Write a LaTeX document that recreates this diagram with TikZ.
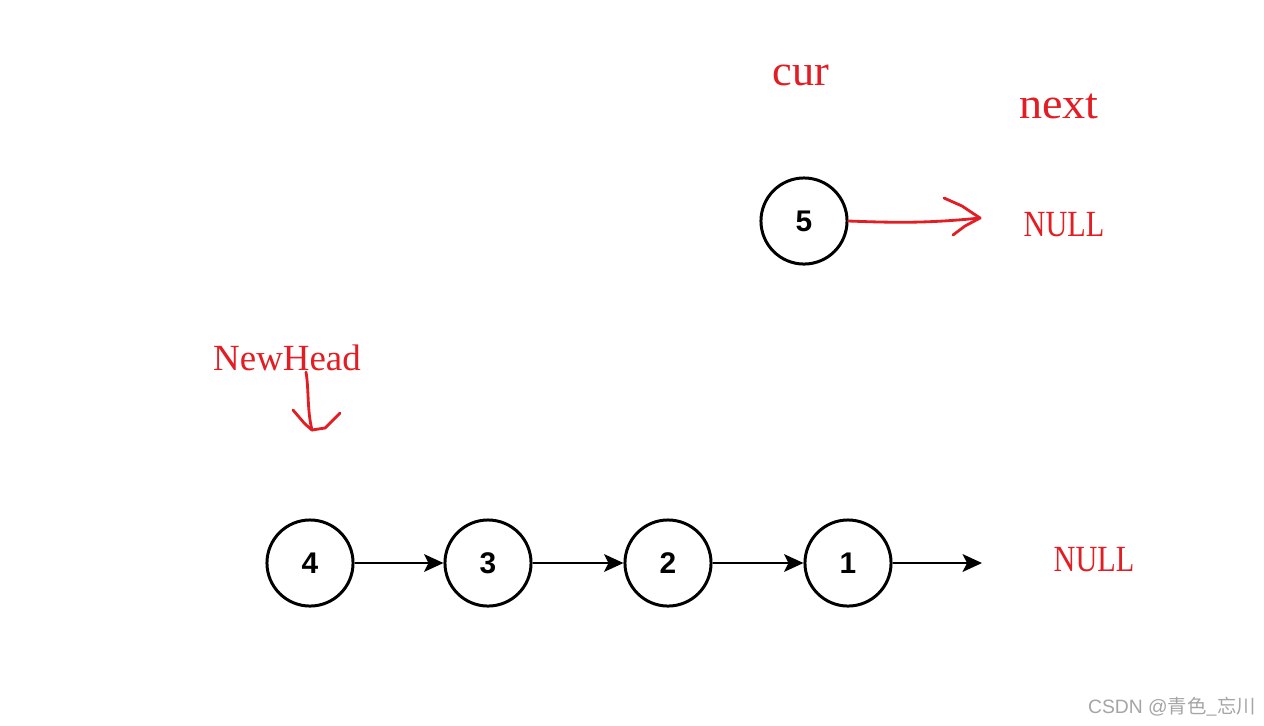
\documentclass[tikz,border=0pt]{standalone}
\usepackage{fontspec}
\setmainfont{Liberation Serif}
\setsansfont{Liberation Sans}
\newfontfamily\cjkfont{Noto Sans CJK SC}
\usetikzlibrary{arrows.meta}
\definecolor{rojo}{RGB}{226,30,36}
\definecolor{marca}{RGB}{165,165,165}
\tikzset{
  nodo/.style={circle, draw, line width=1.7pt, minimum size=49pt, inner sep=0pt,
    font=\sffamily\bfseries\fontsize{17}{17}\selectfont},
  enlace/.style={line width=1.6pt, -{Stealth[length=11pt,width=10pt,inset=2.5pt]}},
  texto/.style={text=rojo, font=\fontsize{21}{21}\selectfont, inner sep=0pt},
  trazo/.style={rojo, line width=1.6pt, line cap=round, line join=round}
}
\begin{document}
\begin{tikzpicture}[x=0.02cm, y=-0.02cm]
    \fill[white] (0,0) rectangle (1264,725);
    \useasboundingbox (0,0) rectangle (1264,725);
    % Nodo suelto
    \node[nodo] (n5) at (804,221) {5};
    % Lista invertida
    \foreach \v/\x in {4/310,3/488,2/668,1/848}
        \node[nodo] (n\v) at (\x,563) {\v};
    \coordinate (fin) at (982,563);
    \foreach \a/\b in {4/3,3/2,2/1}
        \draw[enlace] (n\a) -- (n\b);
    \draw[enlace] (n1) -- (fin);
    % Etiquetas
    \node[texto] (cur) at (801,75) {\scalebox{1.2}[1.18]{cur}};
    \node[texto] (next) at (1059,106) {\scalebox{1.25}[1.18]{next}};
    \node[texto] (nullA) at (1064,225) {\scalebox{0.82}[1]{NULL}};
    \node[texto] (nuevo) at (287,358) {NewHead};
    \node[texto] (nullB) at (1094,560) {\scalebox{0.82}[1]{NULL}};
    % Flechas a mano
    \coordinate (punta) at (980,218);
    \draw[trazo] (n5.east) .. controls (900,223) and (930,223) .. (punta);
    \draw[trazo] (944,198) -- (962,206) -- (punta) -- (965,226) -- (953,235);
    \coordinate (arranque) at (306,372);
    \coordinate (baja) at (312,430);
    \draw[trazo] (arranque) .. controls (309,390) and (307,410) .. (baja);
    \draw[trazo] (293,410) -- (305,424) -- (baja) -- (325,428) -- (340,413);
    % Marca de agua
    \node[text=marca, font=\sffamily\fontsize{11}{11}\selectfont] (firma) at (1172,707)
        {CSDN @{\cjkfont 青色\_忘川}};
\end{tikzpicture}
\end{document}
